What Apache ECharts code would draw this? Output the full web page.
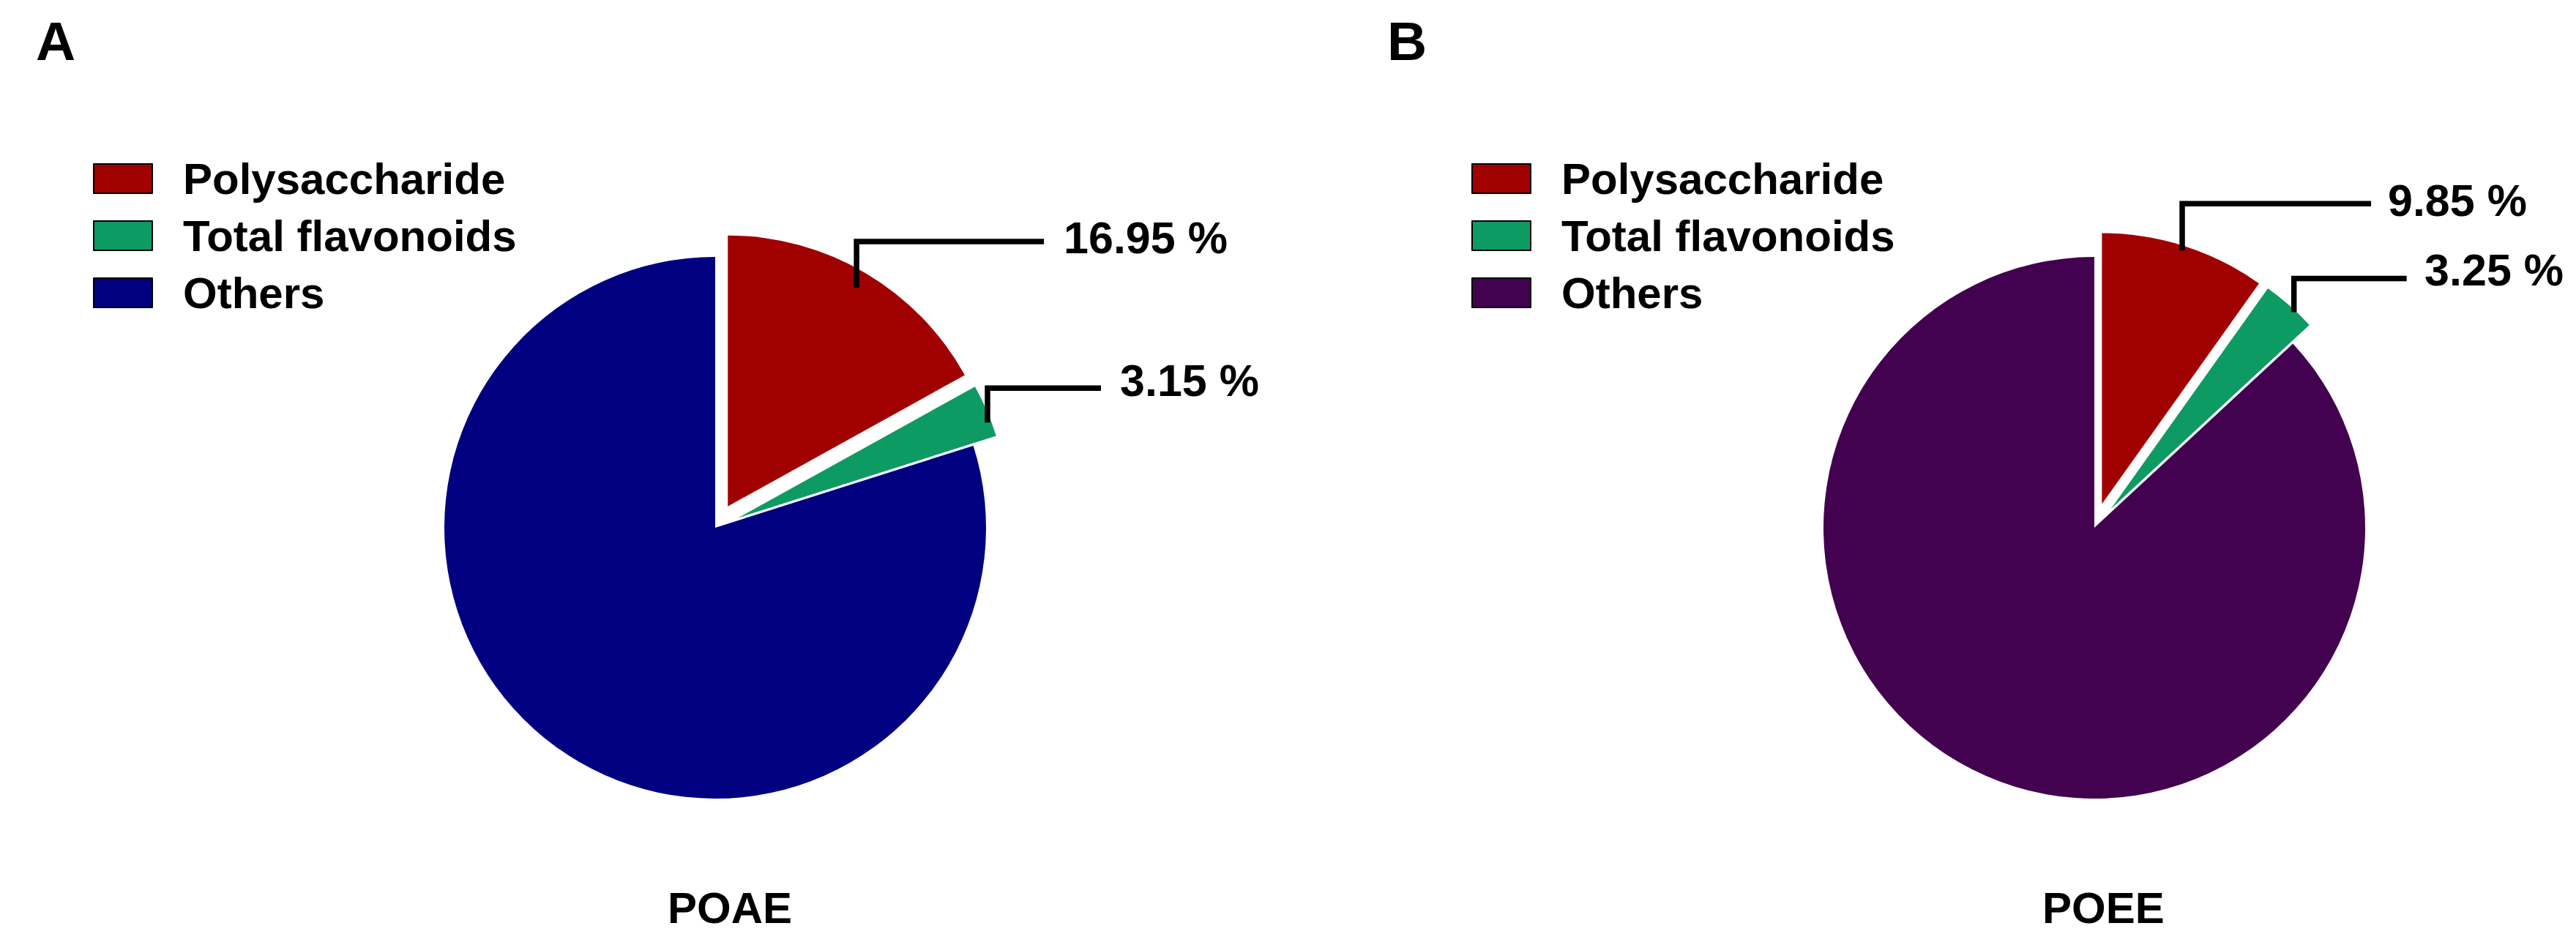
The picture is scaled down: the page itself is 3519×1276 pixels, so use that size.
<!DOCTYPE html>
<html>
<head>
<meta charset="utf-8">
<script src="https://cdn.jsdelivr.net/npm/echarts@6/dist/echarts.min.js"></script>
<style>
html,body{margin:0;padding:0;background:#fff;}
#main{width:3519px;height:1276px;}
</style>
</head>
<body>
<div id="main"></div>
<script>
// ---- data ----
const categories = ['Polysaccharide', 'Total flavonoids', 'Others'];
const poaeValues = [16.95, 3.15, 79.90];
const poeeValues = [9.85, 3.25, 86.90];
const panelLetters = ['A', 'B'];
const panelNames = ['POAE', 'POEE'];

// ---- styles ----
const FONT = '"Liberation Sans", Arial, Helvetica, sans-serif';
const colorsA = ['#A10000', '#0E9A63', '#000080'];
const colorsB = ['#A10000', '#0E9A63', '#42024F'];
const explodedIdx = [0, 1];
const leaderStyle = {color: '#000', width: 7.5, cap: 'butt', join: 'miter'};

// leader-line styling per panel / label:
// len, len2 -> ECharts labelLine lengths (place the text); ox, a, b, h -> elbow drawn from the library's anchor point
const leaderGeom = [
  [{len: 55.6, len2: 237.7, ox: -12, a: 20, b: 43, h: 256},
   {len: 103.9, len2: 81.6, ox: 1, a: 16, b: 31, h: 155}],
  [{len: 65.8, len2: 252.9, ox: -3, a: 6, b: 58, h: 258},
   {len: 64.7, len2: 136.7, ox: 6, a: 9, b: 37, h: 154}]
];

// withLabels=false -> coloured slices; withLabels=true -> transparent overlay carrying labels + leaders above the slices
function buildData(values, colors, panel, withLabels) {
  return categories.map(function (name, i) {
    const exploded = explodedIdx.indexOf(i) >= 0;
    const g = leaderGeom[panel][i];
    const col = withLabels ? 'rgba(0,0,0,0)' : colors[i];
    const show = withLabels && exploded;
    const item = {
      name: name,
      value: values[i],
      selected: exploded,
      itemStyle: {color: col, borderWidth: 0},
      label: {show: show},
      labelLine: {show: show, lineStyle: leaderStyle},
      select: {
        itemStyle: {color: col, borderWidth: 0},
        label: {show: show},
        labelLine: {show: show, lineStyle: leaderStyle}
      }
    };
    if (g && show) {
      item.labelLine.length = g.len;
      item.labelLine.length2 = g.len2;
    }
    return item;
  });
}

function legendData(colors) {
  return categories.map(function (name, i) {
    return {name: name, itemStyle: {color: colors[i], borderColor: '#000', borderWidth: 2}};
  });
}

function makeLayout(panel) {
  return function (params) {
    const g = leaderGeom[panel][params.dataIndex];
    if (!g || !params.labelLinePoints) return {};
    const p0 = params.labelLinePoints[0];
    const vx = p0[0] + g.ox;
    const lineY = p0[1] - g.b;
    return {
      labelLinePoints: [[vx, p0[1] + g.a], [vx, lineY], [vx + g.h, lineY]]
    };
  };
}

function pieSeries(values, colors, center, panel, withLabels) {
  return {
    type: 'pie',
    z: withLabels ? 5 : 2,
    silent: true,
    center: center,
    radius: 370,
    startAngle: 90,
    clockwise: true,
    selectedMode: 'multiple',
    selectedOffset: 34,
    avoidLabelOverlap: false,
    animation: false,
    emphasis: {disabled: true, scale: false},
    label: {
      position: 'outside',
      distanceToLabelLine: 5,
      formatter: function (p) { return p.value.toFixed(2) + ' %'; },
      color: '#000',
      fontFamily: FONT,
      fontWeight: 'bold',
      fontSize: 61,
      lineHeight: 61
    },
    labelLine: {
      show: withLabels,
      showAbove: true,
      smooth: false,
      lineStyle: leaderStyle
    },
    select: {labelLine: {lineStyle: leaderStyle}},
    labelLayout: withLabels ? makeLayout(panel) : null,
    data: buildData(values, colors, panel, withLabels)
  };
}

const chart = echarts.init(document.getElementById('main'), null, {renderer: 'svg'});
const legendText = {color: '#000', fontFamily: FONT, fontWeight: 'bold', fontSize: 60, lineHeight: 60, padding: [0, 0, 0, 37]};
const titleStyle = function (size) {
  return {fontFamily: FONT, fontWeight: 'bold', fontSize: size, lineHeight: size, color: '#000'};
};

chart.setOption({
  backgroundColor: '#fff',
  animation: false,
  title: [
    {text: panelLetters[0], left: 49, top: 18, padding: 0, textStyle: titleStyle(75)},
    {text: panelLetters[1], left: 1895, top: 18, padding: 0, textStyle: titleStyle(75)},
    {text: panelNames[0], left: 912, top: 1210, padding: 0, textStyle: titleStyle(60)},
    {text: panelNames[1], left: 2790, top: 1210, padding: 0, textStyle: titleStyle(60)}
  ],
  legend: [
    {
      orient: 'vertical', left: 127, top: 214, padding: 0, itemGap: 18,
      itemWidth: 80, itemHeight: 40, icon: 'rect', selectedMode: false,
      textStyle: legendText, data: legendData(colorsA)
    },
    {
      orient: 'vertical', left: 2010, top: 214, padding: 0, itemGap: 18,
      itemWidth: 80, itemHeight: 40, icon: 'rect', selectedMode: false,
      textStyle: legendText, data: legendData(colorsB)
    }
  ],
  series: [
    pieSeries(poaeValues, colorsA, [977, 721], 0, false),
    pieSeries(poeeValues, colorsB, [2861, 721], 1, false),
    pieSeries(poaeValues, colorsA, [977, 721], 0, true),
    pieSeries(poeeValues, colorsB, [2861, 721], 1, true)
  ]
});
</script>
</body>
</html>
